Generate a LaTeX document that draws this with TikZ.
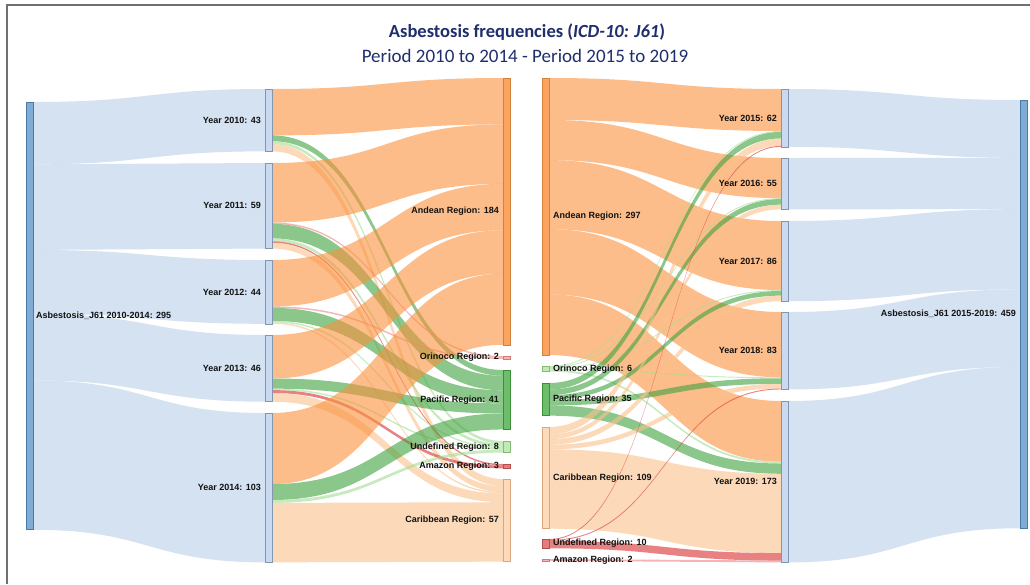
\documentclass[tikz,border=0pt]{standalone}
\usepackage{fontspec}
\setmainfont{Liberation Sans}
\newfontfamily\titlefont{Carlito}
\usetikzlibrary{calc,backgrounds}

% colours of flows (drawn with opacity) and of bars
\definecolor{titleblue}{HTML}{1F2F6E}
\definecolor{framegray}{HTML}{707070}
\definecolor{labeltext}{HTML}{111111}
\definecolor{fblue}{HTML}{B9D0E9}
\definecolor{forange}{HTML}{FA913C}
\definecolor{fgreen}{HTML}{3FA33F}
\definecolor{fpeach}{HTML}{FBC18A}
\definecolor{flgreen}{HTML}{A3DE93}
\definecolor{fred}{HTML}{D92F2F}
\definecolor{fpink}{HTML}{EE8282}
\definecolor{totfill}{HTML}{7FACD6}
\definecolor{totline}{HTML}{4A7AA6}
\definecolor{yrfill}{HTML}{C8D9F0}
\definecolor{yrline}{HTML}{8296AF}
\definecolor{andfill}{HTML}{FBA35F}
\definecolor{andline}{HTML}{D0823F}
\definecolor{pacfill}{HTML}{6DBE6A}
\definecolor{pacline}{HTML}{3E8E3C}
\definecolor{carfill}{HTML}{FDDABA}
\definecolor{carline}{HTML}{D9A67E}
\definecolor{lgfill}{HTML}{C2EAB5}
\definecolor{lgline}{HTML}{84B977}
\definecolor{redfill}{HTML}{E57C7C}
\definecolor{redline}{HTML}{B54E4E}
\definecolor{pinkfill}{HTML}{F5B5B5}
\definecolor{pinkline}{HTML}{D07A7A}

\tikzset{
  sbar/.style={rectangle, line width=0.6pt, minimum width=7pt, inner sep=0pt, outer sep=0pt, anchor=north west},
  flowband/.style={fill opacity=0.6},
  lbl/.style={font=\bfseries\fontsize{9}{11}\selectfont, text=labeltext, inner sep=0pt},
}

% bar: name, left x, top y, value, fill, line
\newcommand\sankeybar[6]{%
  \pgfmathsetmacro\sbh{#4*\kval}%
  \node[sbar, fill=#5, draw=#6, minimum height=\sbh pt] (#1) at (#2,#3) {};%
  \expandafter\xdef\csname out#1\endcsname{0}%
  \expandafter\xdef\csname in#1\endcsname{0}}

% band: source, target, value, colour
\newcommand\sankeyflow[4]{%
  \pgfmathsetmacro\sfw{#3*\kval}%
  \edef\sso{\csname out#1\endcsname}%
  \edef\sti{\csname in#2\endcsname}%
  \coordinate (p1) at ([yshift=-\sso pt]#1.north east);
  \coordinate (p2) at ([yshift=-\sti pt]#2.north west);
  \coordinate (q1) at ([yshift=-\sfw pt]p1);
  \coordinate (q2) at ([yshift=-\sfw pt]p2);
  \coordinate (m) at ($(p1)!0.5!(p2)$);
  \fill[#4, flowband] (p1) .. controls (m|-p1) and (m|-p2) .. (p2) -- (q2)
    .. controls (m|-q2) and (m|-q1) .. (q1) -- cycle;
  \pgfmathsetmacro\stmp{\sso+\sfw}\expandafter\xdef\csname out#1\endcsname{\stmp}%
  \pgfmathsetmacro\stmp{\sti+\sfw}\expandafter\xdef\csname in#2\endcsname{\stmp}}

\begin{document}
\begin{tikzpicture}[x=1pt, y=-1pt]
\useasboundingbox (0,0) rectangle (1030,584);

% Bars, first period
\def\kval{1.45}
\sankeybar{T1}{26}{102}{295}{totfill}{totline}
\sankeybar{Y10}{265}{89}{43}{yrfill}{yrline}
\sankeybar{Y11}{265}{163}{59}{yrfill}{yrline}
\sankeybar{Y12}{265}{260}{44}{yrfill}{yrline}
\sankeybar{Y13}{265}{335}{46}{yrfill}{yrline}
\sankeybar{Y14}{265}{413}{103}{yrfill}{yrline}
\sankeybar{LAnd}{503}{78}{184}{andfill}{andline}
\sankeybar{LOri}{503}{356}{2}{pinkfill}{pinkline}
\sankeybar{LPac}{503}{370}{41}{pacfill}{pacline}
\sankeybar{LUnd}{503}{441}{8}{lgfill}{lgline}
\sankeybar{LAma}{503}{464}{3}{redfill}{redline}
\sankeybar{LCar}{503}{479}{57}{carfill}{carline}

% Bars, second period
\def\kval{0.933}
\sankeybar{RAnd}{542}{78}{297}{andfill}{andline}
\sankeybar{ROri}{542}{366}{6}{lgfill}{lgline}
\sankeybar{RPac}{542}{383}{35}{pacfill}{pacline}
\sankeybar{RCar}{542}{427}{109}{carfill}{carline}
\sankeybar{RUnd}{542}{539}{10}{redfill}{redline}
\sankeybar{RAma}{542}{559}{2}{pinkfill}{pinkline}
\sankeybar{Y15}{781}{89}{62}{yrfill}{yrline}
\sankeybar{Y16}{781}{158}{55}{yrfill}{yrline}
\sankeybar{Y17}{781}{221}{86}{yrfill}{yrline}
\sankeybar{Y18}{781}{312}{83}{yrfill}{yrline}
\sankeybar{Y19}{781}{401}{173}{yrfill}{yrline}
\sankeybar{T2}{1020}{100}{459}{totfill}{totline}

\begin{scope}[on background layer]
\fill[white] (0,0) rectangle (1030,584);
% Flows 2010-2014
\def\kval{1.45}
\sankeyflow{T1}{Y10}{43}{fblue}
\sankeyflow{T1}{Y11}{59}{fblue}
\sankeyflow{T1}{Y12}{44}{fblue}
\sankeyflow{T1}{Y13}{46}{fblue}
\sankeyflow{T1}{Y14}{103}{fblue}
\sankeyflow{Y10}{LAnd}{32}{forange}
\sankeyflow{Y10}{LPac}{4}{fgreen}
\sankeyflow{Y10}{LUnd}{2}{flgreen}
\sankeyflow{Y10}{LCar}{5}{fpeach}
\sankeyflow{Y11}{LAnd}{41}{forange}
\sankeyflow{Y11}{LOri}{1}{fpink}
\sankeyflow{Y11}{LPac}{10}{fgreen}
\sankeyflow{Y11}{LUnd}{2}{flgreen}
\sankeyflow{Y11}{LAma}{1}{fred}
\sankeyflow{Y11}{LCar}{4}{fpeach}
\sankeyflow{Y12}{LAnd}{32}{forange}
\sankeyflow{Y12}{LOri}{1}{fpink}
\sankeyflow{Y12}{LPac}{9}{fgreen}
\sankeyflow{Y12}{LUnd}{1}{flgreen}
\sankeyflow{Y12}{LCar}{1}{fpeach}
\sankeyflow{Y13}{LAnd}{30}{forange}
\sankeyflow{Y13}{LPac}{7}{fgreen}
\sankeyflow{Y13}{LUnd}{1}{flgreen}
\sankeyflow{Y13}{LAma}{2}{fred}
\sankeyflow{Y13}{LCar}{6}{fpeach}
\sankeyflow{Y14}{LAnd}{49}{forange}
\sankeyflow{Y14}{LPac}{11}{fgreen}
\sankeyflow{Y14}{LUnd}{2}{flgreen}
\sankeyflow{Y14}{LCar}{41}{fpeach}
% Flows 2015-2019
\def\kval{0.933}
\sankeyflow{RAnd}{Y15}{45}{forange}
\sankeyflow{RAnd}{Y16}{43}{forange}
\sankeyflow{RAnd}{Y17}{74}{forange}
\sankeyflow{RAnd}{Y18}{70}{forange}
\sankeyflow{RAnd}{Y19}{65}{forange}
\sankeyflow{ROri}{Y15}{1}{flgreen}
\sankeyflow{ROri}{Y16}{1}{flgreen}
\sankeyflow{ROri}{Y17}{1}{flgreen}
\sankeyflow{ROri}{Y18}{1}{flgreen}
\sankeyflow{ROri}{Y19}{2}{flgreen}
\sankeyflow{RPac}{Y15}{7}{fgreen}
\sankeyflow{RPac}{Y16}{6}{fgreen}
\sankeyflow{RPac}{Y17}{5}{fgreen}
\sankeyflow{RPac}{Y18}{6}{fgreen}
\sankeyflow{RPac}{Y19}{11}{fgreen}
\sankeyflow{RCar}{Y15}{8}{fpeach}
\sankeyflow{RCar}{Y16}{5}{fpeach}
\sankeyflow{RCar}{Y17}{6}{fpeach}
\sankeyflow{RCar}{Y18}{5}{fpeach}
\sankeyflow{RCar}{Y19}{85}{fpeach}
\sankeyflow{RUnd}{Y15}{1}{fred}
\sankeyflow{RUnd}{Y18}{1}{fred}
\sankeyflow{RUnd}{Y19}{8}{fred}
\sankeyflow{RAma}{Y19}{2}{fpink}
\sankeyflow{Y15}{T2}{62}{fblue}
\sankeyflow{Y16}{T2}{55}{fblue}
\sankeyflow{Y17}{T2}{86}{fblue}
\sankeyflow{Y18}{T2}{83}{fblue}
\sankeyflow{Y19}{T2}{173}{fblue}
\end{scope}

% Frame and title
\draw[framegray, line width=1.3pt] (1030,5) -- (7,5) -- (7,584);
\node[font=\titlefont\bfseries\fontsize{18.5}{22}\selectfont, text=titleblue] (title) at (527,32) {Asbestosis frequencies (\textit{ICD-10: J61})};
\node[font=\titlefont\fontsize{19}{22}\selectfont, text=titleblue] (subtitle) at (525,56) {Period 2010 to 2014 - Period 2015 to 2019};

% Labels
\node[lbl, anchor=west] (lT1) at ([xshift=3pt]T1.east) {Asbestosis\_J61 2010-2014: 295};
\node[lbl, anchor=east] (lY10) at ([xshift=-4pt]Y10.west) {Year 2010: 43};
\node[lbl, anchor=east] (lY11) at ([xshift=-4pt]Y11.west) {Year 2011: 59};
\node[lbl, anchor=east] (lY12) at ([xshift=-4pt]Y12.west) {Year 2012: 44};
\node[lbl, anchor=east] (lY13) at ([xshift=-4pt]Y13.west) {Year 2013: 46};
\node[lbl, anchor=east] (lY14) at ([xshift=-4pt]Y14.west) {Year 2014: 103};
\node[lbl, anchor=east] (lLAnd) at ([xshift=-4pt]LAnd.west) {Andean Region: 184};
\node[lbl, anchor=east] (lLOri) at ([xshift=-4pt]LOri.west) {Orinoco Region: 2};
\node[lbl, anchor=east] (lLPac) at ([xshift=-4pt]LPac.west) {Pacific Region: 41};
\node[lbl, anchor=east] (lLUnd) at ([xshift=-4pt]LUnd.west) {Undefined Region: 8};
\node[lbl, anchor=east] (lLAma) at ([xshift=-4pt]LAma.west) {Amazon Region: 3};
\node[lbl, anchor=east] (lLCar) at ([xshift=-4pt]LCar.west) {Caribbean Region: 57};
\node[lbl, anchor=west] (lRAnd) at ([xshift=4pt]RAnd.east) {Andean Region: 297};
\node[lbl, anchor=west] (lROri) at ([xshift=4pt]ROri.east) {Orinoco Region: 6};
\node[lbl, anchor=west] (lRPac) at ([xshift=4pt]RPac.east) {Pacific Region: 35};
\node[lbl, anchor=west] (lRCar) at ([xshift=4pt]RCar.east) {Caribbean Region: 109};
\node[lbl, anchor=west] (lRUnd) at ([xshift=4pt]RUnd.east) {Undefined Region: 10};
\node[lbl, anchor=west] (lRAma) at ([xshift=4pt]RAma.east) {Amazon Region: 2};
\node[lbl, anchor=east] (lY15) at ([xshift=-4pt]Y15.west) {Year 2015: 62};
\node[lbl, anchor=east] (lY16) at ([xshift=-4pt]Y16.west) {Year 2016: 55};
\node[lbl, anchor=east] (lY17) at ([xshift=-4pt]Y17.west) {Year 2017: 86};
\node[lbl, anchor=east] (lY18) at ([xshift=-4pt]Y18.west) {Year 2018: 83};
\node[lbl, anchor=east] (lY19) at ([xshift=-4pt]Y19.west) {Year 2019: 173};
\node[lbl, anchor=east] (lT2) at ([xshift=-4pt]T2.west) {Asbestosis\_J61 2015-2019: 459};
\end{tikzpicture}
\end{document}
